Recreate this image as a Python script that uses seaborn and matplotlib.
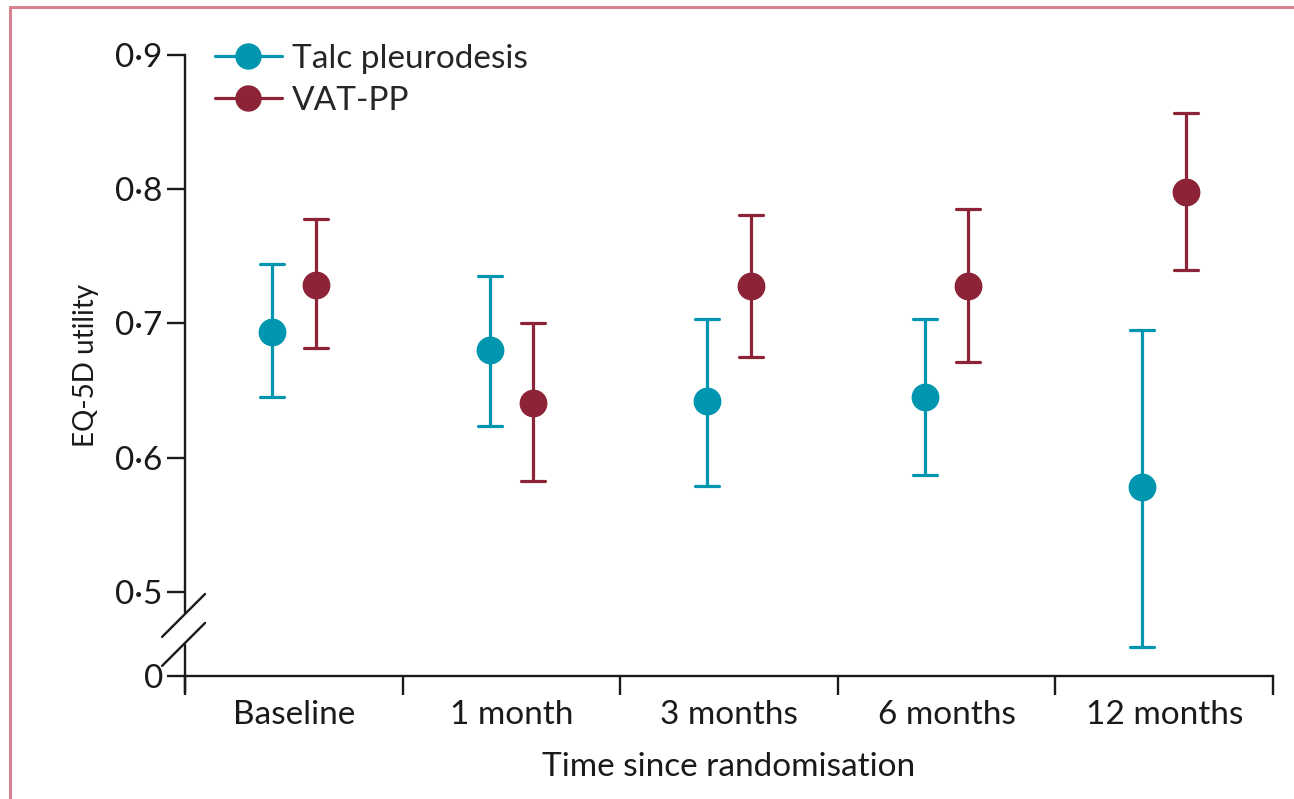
import numpy as np
import pandas as pd
import matplotlib
matplotlib.use("Agg")
import matplotlib.pyplot as plt
import matplotlib.transforms as mtransforms
from matplotlib.lines import Line2D
import seaborn as sns

# ---- data ----
timepoints = ["Baseline", "1 month", "3 months", "6 months", "12 months"]
groups = ["Talc pleurodesis", "VAT-PP"]
talc_mean = [0.694, 0.680, 0.642, 0.645, 0.578]
talc_low = [0.645, 0.624, 0.579, 0.587, 0.459]
talc_high = [0.744, 0.735, 0.703, 0.703, 0.695]
vat_mean = [0.729, 0.641, 0.728, 0.728, 0.798]
vat_low = [0.682, 0.583, 0.675, 0.671, 0.740]
vat_high = [0.778, 0.700, 0.781, 0.785, 0.857]
ytick_vals = [0.4374, 0.5, 0.6, 0.7, 0.8, 0.9]
ytick_labels = ["0", "0·5", "0·6", "0·7", "0·8", "0·9"]

colors = {"Talc pleurodesis": "#0096AF", "VAT-PP": "#8C2336"}

rows = []
for g, lo, mu, hi in [("Talc pleurodesis", talc_low, talc_mean, talc_high),
                      ("VAT-PP", vat_low, vat_mean, vat_high)]:
    for t, a, b, c in zip(timepoints, lo, mu, hi):
        for v in (a, b, c):
            rows.append({"time": t, "group": g, "value": v})
df = pd.DataFrame(rows)

sns.set_style("white")
plt.rcParams["font.family"] = ["Lato", "DejaVu Sans"]

ink = "#1a1a1a"
fig = plt.figure(figsize=(12.94, 7.99), dpi=100)
ax = fig.add_axes([185 / 1294, 1 - 676 / 799, (1273 - 185) / 1294, (676 - 55) / 799])

sns.pointplot(data=df, x="time", y="value", hue="group", order=timepoints,
              hue_order=groups, palette=colors, estimator="median",
              errorbar=lambda v: (np.min(v), np.max(v)),
              dodge=0.2, linestyle="none", markers="o", markersize=18,
              capsize=0.11, err_kws={"linewidth": 2.3}, legend=False, ax=ax)

ax.set_xlim(-0.5, 4.5)
ax.set_ylim(0.4374, 0.9)

# axes styling
for s in ["top", "right"]:
    ax.spines[s].set_visible(False)
ax.spines["left"].set_bounds(0.4851, 0.9)
for s in ["left", "bottom"]:
    ax.spines[s].set_linewidth(1.7)
    ax.spines[s].set_color(ink)

ax.set_yticks(ytick_vals)
ax.set_yticklabels(ytick_labels)
ax.set_xticks(range(len(timepoints)))
ax.set_xticklabels(timepoints)
ax.set_xticks(np.arange(-0.5, len(timepoints), 1.0), minor=True)
ax.tick_params(axis="x", which="both", bottom=True)
ax.tick_params(axis="y", which="both", left=True)
ax.tick_params(axis="x", which="major", length=0, pad=17, labelsize=24, colors=ink)
ax.tick_params(axis="x", which="minor", length=14, width=1.7, direction="out", color=ink)
ax.tick_params(axis="y", which="major", length=13, width=1.7, direction="out", pad=3,
               labelsize=24, colors=ink)

# lower segment of the broken y axis and the break marks
blend = mtransforms.blended_transform_factory(ax.transAxes, ax.transData)
ax.plot([0, 0], [0.4248, 0.4605], transform=blend, color=ink, lw=1.7, clip_on=False)
ax.plot([-0.0211, 0.0184], [0.4665, 0.4985], transform=blend, color=ink, lw=1.7, clip_on=False)
ax.plot([-0.0211, 0.0184], [0.4449, 0.4769], transform=blend, color=ink, lw=1.7, clip_on=False)

ax.set_xlabel("Time since randomisation", fontsize=24, color=ink, labelpad=16)
ax.set_ylabel("EQ-5D utility", fontsize=20, color=ink, labelpad=12)

handles = [Line2D([0], [0], color=colors[g], lw=2.3, marker="o", markersize=18) for g in groups]
ax.legend(handles, groups, loc="upper left", bbox_to_anchor=(0.0, 1.066), frameon=False,
          fontsize=24, handlelength=2.0, handletextpad=0.3, labelspacing=0.35)

# pink frame around figure
fig.add_artist(Line2D([10 / 1294, 10 / 1294], [0, 1 - 7 / 799], color="#D9828F", lw=2.2))
fig.add_artist(Line2D([10 / 1294, 1], [1 - 7 / 799, 1 - 7 / 799], color="#D9828F", lw=2.2))

fig.savefig("out.png", dpi=100)
